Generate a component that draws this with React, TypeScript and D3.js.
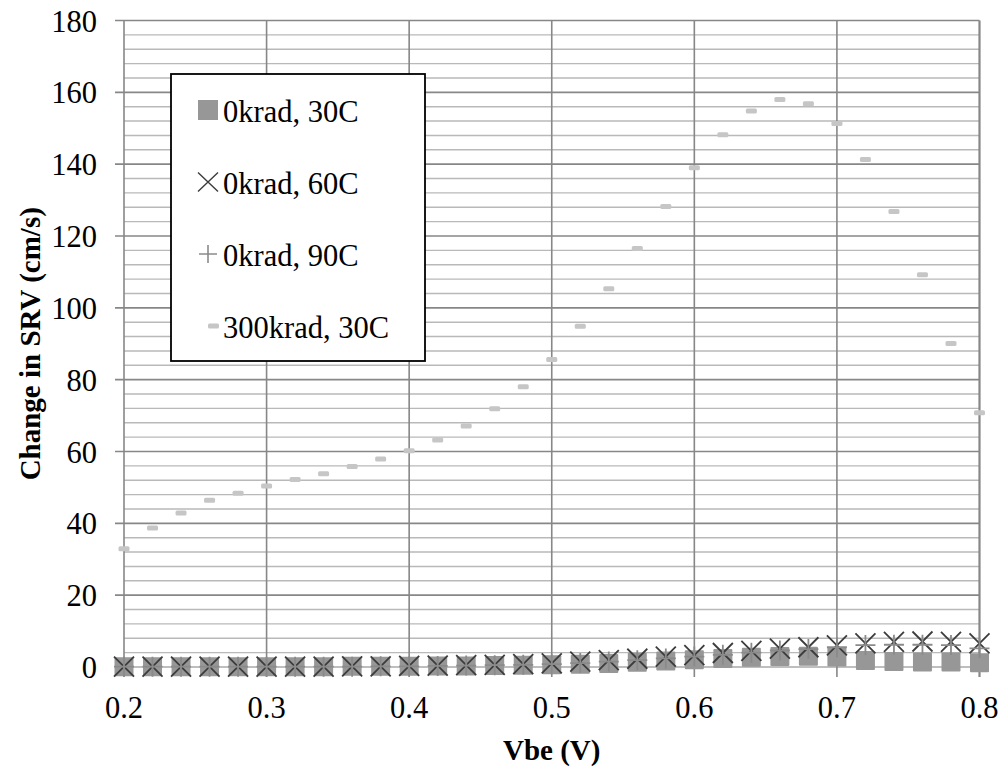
import React from "react";
import * as d3 from "d3";

const vbe = [0.2, 0.22, 0.24, 0.26, 0.28, 0.3, 0.32, 0.34, 0.36, 0.38, 0.4, 0.42, 0.44, 0.46, 0.48, 0.5, 0.52, 0.54, 0.56, 0.58, 0.6, 0.62, 0.64, 0.66, 0.68, 0.7, 0.72, 0.74, 0.76, 0.78, 0.8];
const k0c30 = [0.1, 0.1, 0.1, 0.1, 0.1, 0.1, 0.1, 0.1, 0.2, 0.2, 0.2, 0.3, 0.3, 0.4, 0.5, 0.6, 0.8, 1.0, 1.3, 1.7, 2.0, 2.4, 2.7, 2.9, 3.0, 2.8, 1.8, 1.5, 1.4, 1.4, 1.2];
const k0c60 = [0.1, 0.1, 0.1, 0.1, 0.1, 0.1, 0.1, 0.1, 0.2, 0.2, 0.3, 0.4, 0.5, 0.6, 0.8, 1.0, 1.5, 1.9, 2.3, 2.9, 3.3, 3.9, 4.5, 5.1, 5.5, 6.0, 6.6, 7.0, 7.1, 7.0, 6.6];
const k0c90 = [0.1, 0.1, 0.1, 0.1, 0.1, 0.1, 0.1, 0.1, 0.1, 0.2, 0.2, 0.3, 0.4, 0.5, 0.6, 0.8, 1.1, 1.5, 1.9, 2.4, 2.9, 3.4, 4.0, 4.6, 5.0, 5.5, 6.1, 6.2, 6.2, 6.1, 5.2];
const k300c30 = [32.9, 38.7, 42.9, 46.4, 48.4, 50.4, 52.2, 53.8, 55.8, 57.9, 60.2, 63.2, 67.1, 71.9, 78.0, 85.6, 94.9, 105.3, 116.5, 128.2, 139.0, 148.2, 154.8, 158.0, 156.8, 151.3, 141.3, 126.8, 109.2, 90.1, 70.8];

const xTicks = [0.2, 0.3, 0.4, 0.5, 0.6, 0.7, 0.8];
const yMajor = [0, 20, 40, 60, 80, 100, 120, 140, 160, 180];
const yMinor = [4, 8, 12, 16, 24, 28, 32, 36, 44, 48, 52, 56, 64, 68, 72, 76, 84, 88, 92, 96, 104, 108, 112, 116, 124, 128, 132, 136, 144, 148, 152, 156, 164, 168, 172, 176];
const legendLabels = ["0krad, 30C", "0krad, 60C", "0krad, 90C", "300krad, 30C"];

const W = 1005, H = 769;
const L = 124, R = 979.5, T = 20.5, B = 667;
const FONT = '"Liberation Serif", Tinos, "Times New Roman", Times, "DejaVu Serif", serif';
const ts: React.CSSProperties = { fontFamily: FONT };

export default function App() {
  const x = d3.scaleLinear().domain([0.2, 0.8]).range([L, R]);
  const y = d3.scaleLinear().domain([0, 180]).range([B, T]);
  const major = "#878787";
  const minor = "#b9b9b9";

  const sq = 19;
  const xm = 10;
  const pm = 10;

  return (
    <svg width={W} height={H} style={{ position: "absolute", left: 0, top: 0, background: "#fff" }}>
      <rect x={0} y={0} width={W} height={H} fill="#fff" />
      {yMinor.map((v) => (
        <line key={"mi" + v} x1={L} x2={R} y1={y(v)} y2={y(v)} stroke={minor} strokeWidth={1.4} />
      ))}
      {yMajor.map((v) => (
        <line key={"ma" + v} x1={L - 9} x2={R} y1={y(v)} y2={y(v)} stroke={v === 0 ? "#a8a8a8" : major} strokeWidth={v === 0 ? 1.4 : 1.6} />
      ))}
      {xTicks.map((v) => (
        <line key={"vx" + v} x1={x(v)} x2={x(v)} y1={T} y2={B + 10} stroke={major} strokeWidth={v === 0.8 ? 2.2 : 1.6} />
      ))}
      {yMajor.map((v) => (
        <text key={"yl" + v} x={97} y={y(v) + 11} textAnchor="end" fontSize={30.5} fill="#000" style={ts}>
          {v}
        </text>
      ))}
      {xTicks.map((v) => (
        <text key={"xl" + v} x={x(v)} y={718} textAnchor="middle" fontSize={30.5} fill="#000" style={ts}>
          {d3.format(".1f")(v)}
        </text>
      ))}
      <text x={(L + R) / 2} y={760} textAnchor="middle" fontSize={29} fontWeight="bold" fill="#000" style={ts}>
        Vbe (V)
      </text>
      <text
        transform={`translate(${40},${(T + B) / 2}) rotate(-90)`}
        textAnchor="middle"
        fontSize={29}
        fontWeight="bold"
        fill="#000"
        style={ts}
      >
        Change in SRV (cm/s)
      </text>

      {vbe.map((v, i) => (
        <rect key={"s" + i} x={x(v) - sq / 2} y={y(k0c30[i]) - sq / 2} width={sq} height={sq} rx={1} fill="#979797" />
      ))}
      {vbe.map((v, i) => {
        const cx = x(v), cy = y(k0c60[i]);
        return (
          <path key={"x" + i} d={`M${cx - xm},${cy - xm}L${cx + xm},${cy + xm}M${cx - xm},${cy + xm}L${cx + xm},${cy - xm}`} stroke="#3c3c3c" strokeWidth={1.8} fill="none" />
        );
      })}
      {vbe.map((v, i) => {
        const cx = x(v), cy = y(k0c90[i]);
        return (
          <path key={"p" + i} d={`M${cx - pm},${cy}L${cx + pm},${cy}M${cx},${cy - pm}L${cx},${cy + pm}`} stroke="#8a8a8a" strokeWidth={1.8} fill="none" />
        );
      })}
      {vbe.map((v, i) => (
        <rect key={"d" + i} x={x(v) - 5.5} y={y(k300c30[i]) - 2.5} width={11} height={5} rx={1.5} fill="#c6c6c6" />
      ))}

      <rect x={171} y={74} width={254} height={287} fill="#fff" stroke="#000" strokeWidth={1.8} />
      {legendLabels.map((lab, i) => {
        const cy = 110 + i * 72;
        const mx = 208;
        let marker: React.ReactNode = null;
        if (i === 0) marker = <rect x={mx - 10} y={cy - 10} width={20} height={20} fill="#979797" />;
        if (i === 1)
          marker = <path d={`M${mx - 10},${cy - 9.5}L${mx + 10},${cy + 9.5}M${mx - 10},${cy + 9.5}L${mx + 10},${cy - 9.5}`} stroke="#3c3c3c" strokeWidth={1.4} fill="none" />;
        if (i === 2)
          marker = <path d={`M${mx - 9},${cy}L${mx + 9},${cy}M${mx},${cy - 9}L${mx},${cy + 9}`} stroke="#8a8a8a" strokeWidth={1.6} fill="none" />;
        if (i === 3) marker = <rect x={mx} y={cy - 2.5} width={11} height={5} rx={1.5} fill="#c6c6c6" />;
        return (
          <g key={"lg" + i}>
            {marker}
            <text x={223} y={cy + 11.5} fontSize={30.5} fill="#000" style={ts}>
              {lab}
            </text>
          </g>
        );
      })}
    </svg>
  );
}
